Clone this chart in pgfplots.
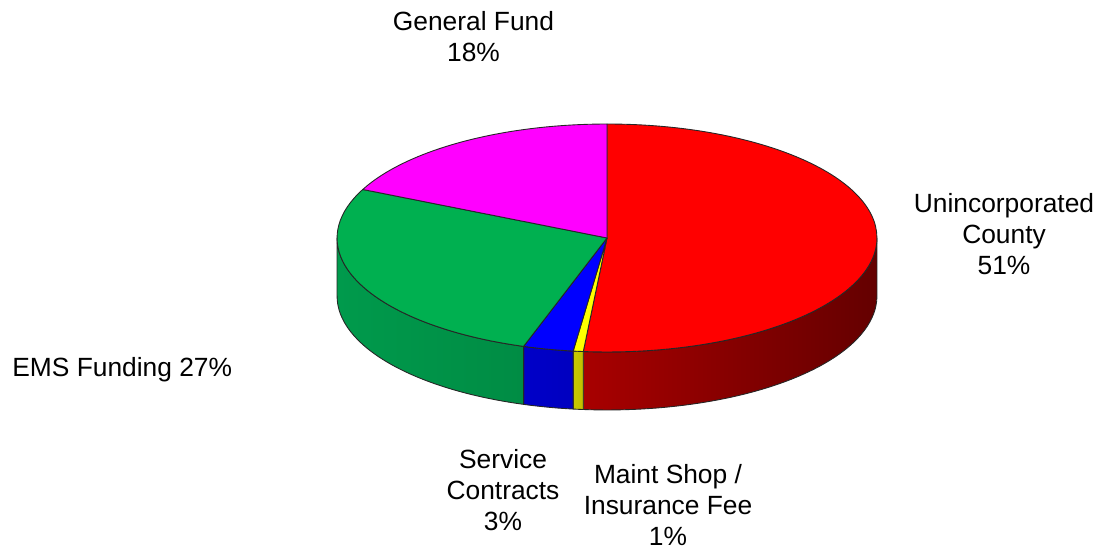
\documentclass[border=0pt]{standalone}
\usepackage{pgfplots}
\usepackage{pgfplotstable}
\pgfplotsset{compat=1.18}
\usepackage{fontspec}
\setmainfont{Liberation Sans}

\definecolor{pieRed}{HTML}{FF0000}
\definecolor{pieRedL}{HTML}{A80000}
\definecolor{pieRedR}{HTML}{640000}
\definecolor{pieYellow}{HTML}{FFFF00}
\definecolor{pieYellowL}{HTML}{C8C800}
\definecolor{pieYellowR}{HTML}{C0C000}
\definecolor{pieBlue}{HTML}{0000FF}
\definecolor{pieBlueL}{HTML}{0000C8}
\definecolor{pieBlueR}{HTML}{0000C0}
\definecolor{pieGreen}{HTML}{00B050}
\definecolor{pieGreenL}{HTML}{009A4C}
\definecolor{pieGreenR}{HTML}{008C44}
\definecolor{pieMagenta}{HTML}{FF00FF}
\definecolor{pieMagentaL}{HTML}{C000C0}
\definecolor{pieMagentaR}{HTML}{C000C0}

% share (percent) of each slice, clockwise from 12 o'clock
\pgfplotstableread{
name value top sidel sider
Unincorporated 51.4 pieRed pieRedL pieRedR
Maint 0.6 pieYellow pieYellowL pieYellowR
Service 3.0 pieBlue pieBlueL pieBlueR
EMS 27.0 pieGreen pieGreenL pieGreenR
General 18.0 pieMagenta pieMagentaL pieMagentaR
}\piedata

\begin{document}
\begin{tikzpicture}
\begin{axis}[
  x=0.02cm, y=0.02cm,
  xmin=0, xmax=1102, ymin=0, ymax=550,
  hide axis, clip=false,
]
\pgfplotsextra{
  \begin{scope}[shift={(axis cs:607,312)}]
  % side walls (front half only)
  \xdef\acc{90}
  \foreach \i in {0,...,4}{
    \pgfplotstablegetelem{\i}{value}\of\piedata \let\v\pgfplotsretval
    \pgfplotstablegetelem{\i}{sidel}\of\piedata \let\scl\pgfplotsretval
    \pgfplotstablegetelem{\i}{sider}\of\piedata \let\scr\pgfplotsretval
    \pgfmathsetmacro\a{\acc}
    \pgfmathsetmacro\b{\acc-3.6*\v}
    \pgfmathsetmacro\sa{min(\a,0)}
    \pgfmathsetmacro\sb{max(\b,-180)}
    \pgfmathtruncatemacro\vis{\sa>\sb}
    \ifnum\vis=1
      \path[left color=\scl, right color=\scr, draw=black!85, line width=0.5pt, line join=round]
        (\sa:5.4cm and 2.28cm) arc[start angle=\sa, end angle=\sb, x radius=5.4cm, y radius=2.28cm]
        -- ++(0pt,-1.16cm) arc[start angle=\sb, end angle=\sa, x radius=5.4cm, y radius=2.28cm] -- cycle;
    \fi
    \xdef\acc{\b}
  }
  % top faces
  \xdef\acc{90}
  \foreach \i in {0,...,4}{
    \pgfplotstablegetelem{\i}{value}\of\piedata \let\v\pgfplotsretval
    \pgfplotstablegetelem{\i}{top}\of\piedata \let\tc\pgfplotsretval
    \pgfmathsetmacro\a{\acc}
    \pgfmathsetmacro\b{\acc-3.6*\v}
    \filldraw[fill=\tc, draw=black!85, line width=0.5pt, line join=round]
      (0pt,0pt) -- (\a:5.4cm and 2.28cm) arc[start angle=\a, end angle=\b, x radius=5.4cm, y radius=2.28cm] -- cycle;
    \xdef\acc{\b}
  }
  \end{scope}
}
\begin{scope}[every node/.style={font=\fontsize{15}{17.6}\selectfont, align=center, inner sep=0pt}]
\node at (axis cs:473.5,513) {General Fund\\18\%};
\node at (axis cs:1004,316) {Unincorporated\\County\\51\%};
\node[anchor=west] at (axis cs:12,180) {EMS Funding 27\%};
\node at (axis cs:503,60) {Service\\Contracts\\3\%};
\node at (axis cs:668,45) {Maint Shop /\\Insurance Fee\\1\%};
\end{scope}
\end{axis}
\pgfresetboundingbox
\path (current axis.south west) rectangle (current axis.north east);
\end{tikzpicture}
\end{document}
